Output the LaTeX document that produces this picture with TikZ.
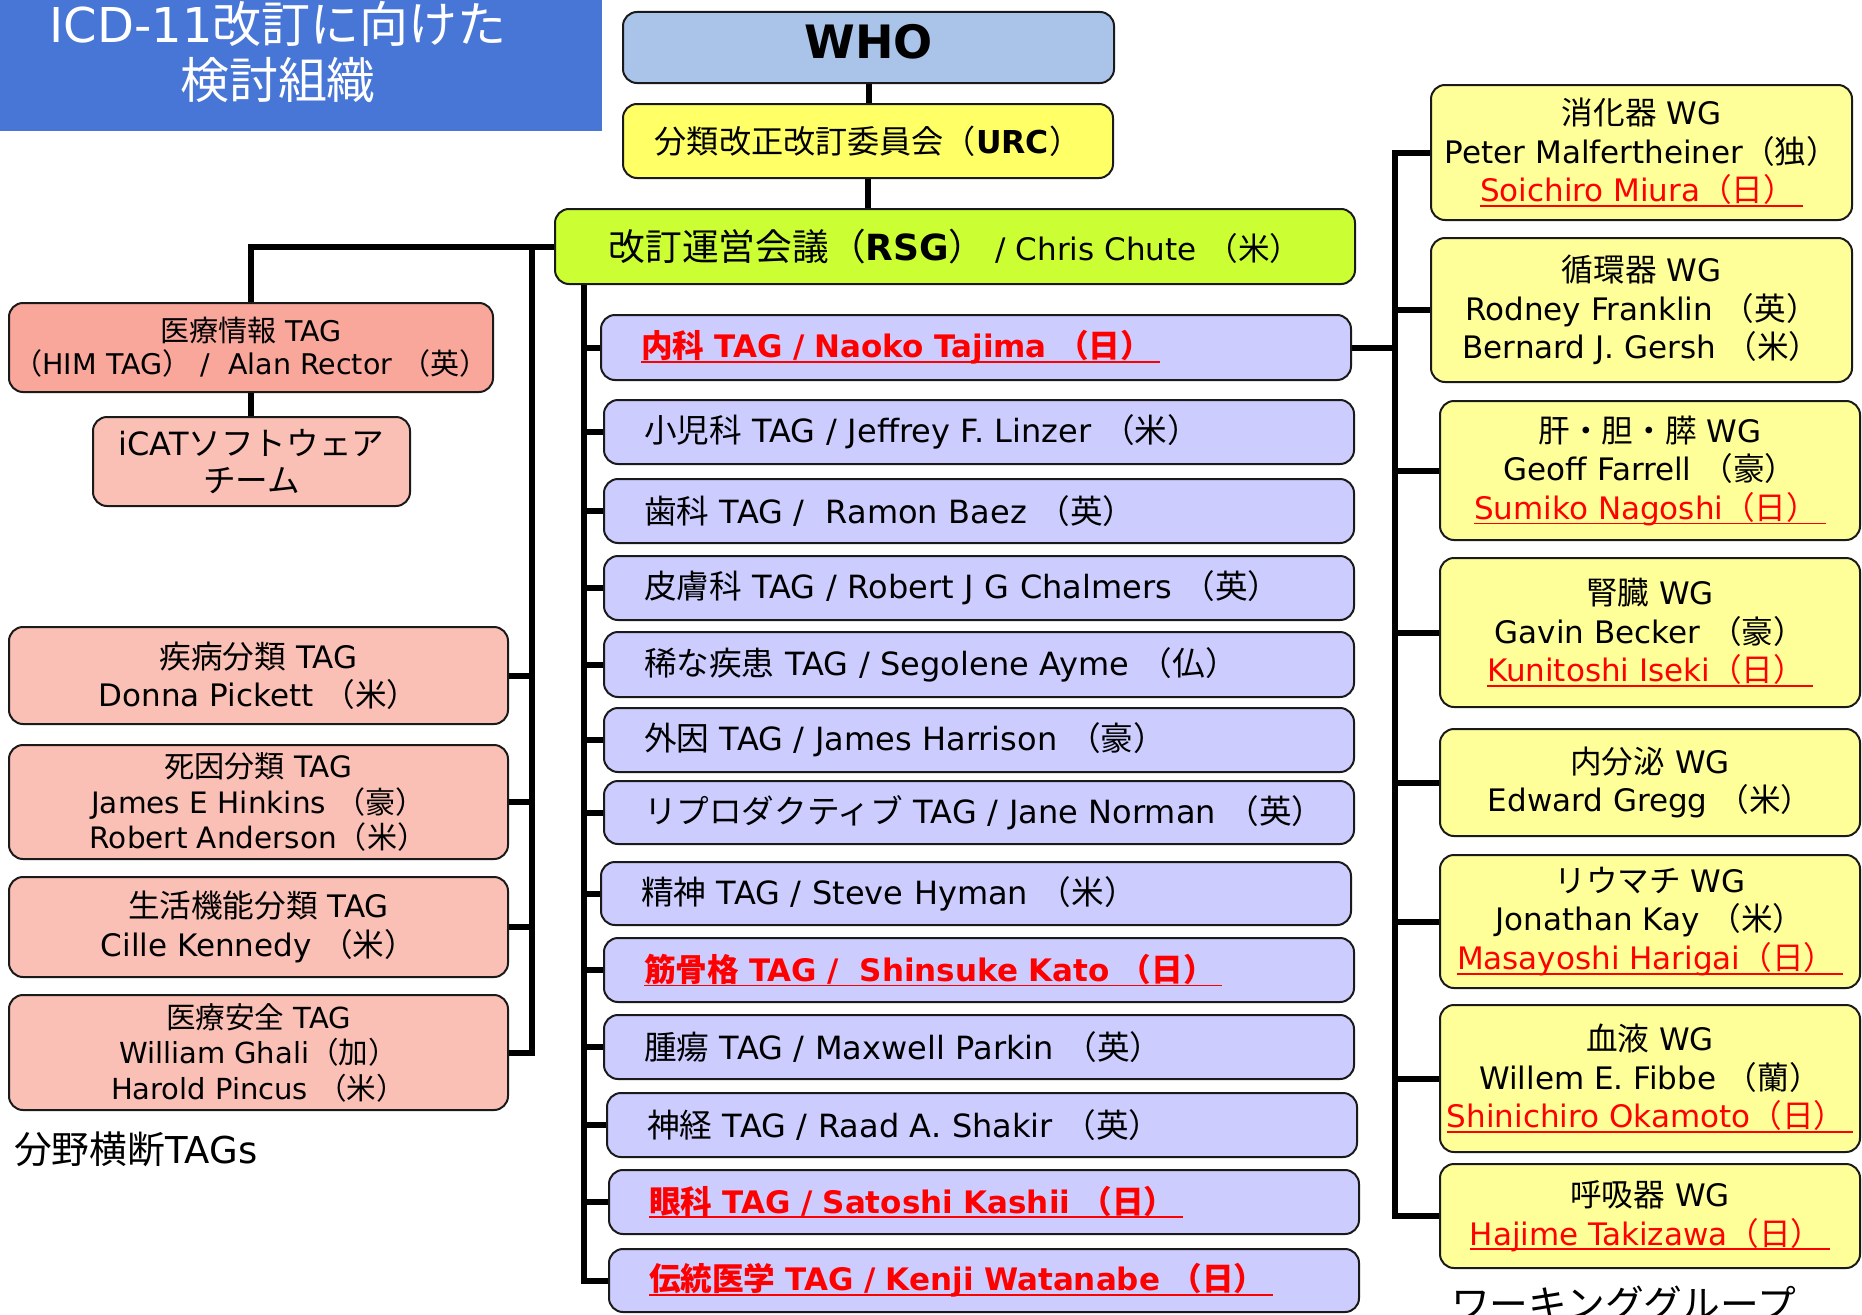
\documentclass[tikz,border=0pt]{standalone}
\usepackage{fontspec}
\setmainfont{DejaVu Sans}
\newfontfamily\jp[Scale=1.02]{Noto Sans CJK JP}
\newcommand\J[1]{{\jp #1}}
\newcommand\fz[2]{\fontsize{#1}{#2}\selectfont}
\newcommand\ulr[1]{\setbox0=\hbox{#1\hspace{0.25em}}\rlap{\rule[-0.17em]{\wd0}{1.8pt}}\box0}
\newcommand\rn[1]{\textcolor{red}{\ulr{#1}}}
\usetikzlibrary{backgrounds}
\definecolor{titleblue}{HTML}{4876D6}
\definecolor{whoblue}{HTML}{A9C4E8}
\definecolor{urcyellow}{HTML}{FFFF66}
\definecolor{rsggreen}{HTML}{CCFF33}
\definecolor{himsalmon}{HTML}{F9A69B}
\definecolor{ltagpink}{HTML}{FBC0B5}
\definecolor{tagblue}{HTML}{CCCCFF}
\definecolor{wgyellow}{HTML}{FFFF99}
\definecolor{edge}{HTML}{1A1A1A}
\begin{document}
\begin{tikzpicture}[x=1pt,y=-1pt,
  base/.style={draw=edge, line width=2pt, rounded corners=14pt, inner sep=0pt},
  tagb/.style={base, fill=tagblue, anchor=west, align=left, text width=670pt, inner xsep=40pt, minimum height=64pt, font=\fz{32}{36}},
  redt/.style={text=red, font=\fz{31}{36}\bfseries},
  wgb/.style={base, fill=wgyellow, align=center, minimum width=420pt, font=\fz{31}{38.5}},
  ltag/.style={base, fill=ltagpink, align=center, minimum width=499pt},
  conn/.style={line width=6pt, line cap=rect, black},
  lbl/.style={anchor=base west, inner sep=0pt}]
\useasboundingbox (0,0) rectangle (1862,1314);

% title
\node[fill=titleblue, minimum width=602pt, minimum height=131pt, inner sep=0pt, anchor=north west] (titlebox) at (0,0) {};
\node[text=white, align=center, font=\fz{48}{56}, inner sep=0pt] (title) at (278,52) {ICD-11\J{改訂に向けた}\\\J{検討組織}};

% top chain
\node[base, fill=whoblue, minimum width=491pt, minimum height=71pt, font=\fz{46}{50}\bfseries] (who) at (868.5,47.5) {\raisebox{6pt}[\height][\depth]{WHO}};
\node[base, fill=urcyellow, minimum width=490pt, minimum height=74pt, font=\fz{31.5}{36}] (urc) at (868,141) {\J{分類改正改訂委員会（}\textbf{URC}\J{）}};
\node[base, fill=rsggreen, minimum width=800pt, minimum height=75pt, font=\fz{31}{36}] (rsg) at (955,246.5) {{\fz{36}{40}\J{改訂運営会議（}\textbf{RSG}\J{）}} / Chris Chute \J{（米）}};

% left side
\node[base, fill=himsalmon, minimum width=484pt, minimum height=89pt, align=center, font=\fz{28.5}{33}] (him) at (251,347.5) {\J{医療情報} TAG\\\J{（}HIM TAG\J{）} /\ \ Alan Rector \J{（英）}};
\node[base, fill=ltagpink, minimum width=317pt, minimum height=89pt, align=center, font=\fz{32}{37}] (icat) at (251.5,461.5) {iCAT\J{ソフトウェア}\\\J{チーム}};
\node[ltag, minimum height=97pt, font=\fz{31}{38}] (t1) at (258.5,675.5) {\J{疾病分類} TAG\\Donna Pickett \J{（米）}};
\node[ltag, minimum height=114pt, font=\fz{29.5}{35.5}] (t2) at (258.5,802) {\J{死因分類} TAG\\James E Hinkins \J{（豪）}\\Robert Anderson\J{（米）}};
\node[ltag, minimum height=100pt, font=\fz{31}{39}] (t3) at (258.5,927) {\J{生活機能分類} TAG\\Cille Kennedy \J{（米）}};
\node[ltag, minimum height=115pt, font=\fz{29}{35.5}] (t4) at (258.5,1052.5) {\J{医療安全} TAG\\William Ghali\J{（加）}\\Harold Pincus \J{（米）}};
\node[lbl, font=\fz{37}{40}] (lbl1) at (14,1163) {\J{分野横断}TAGs};

% center TAGs
\node[tagb, minimum height=65pt, redt] (c1) at (600,347.5) {\ulr{\J{内科} TAG / Naoko Tajima \J{（日）}}};
\node[tagb] (c2) at (603,432) {\J{小児科} TAG / Jeffrey F. Linzer \J{（米）}};
\node[tagb] (c3) at (603,511) {\J{歯科} TAG /\ \ Ramon Baez \J{（英）}};
\node[tagb] (c4) at (603,588) {\J{皮膚科} TAG / Robert J G Chalmers \J{（英）}};
\node[tagb, minimum height=65pt] (c5) at (603,664.5) {\J{稀な疾患} TAG / Segolene Ayme \J{（仏）}};
\node[tagb] (c6) at (603,740) {\J{外因} TAG / James Harrison \J{（豪）}};
\node[tagb, minimum height=63pt] (c7) at (603,812.5) {\mbox{\J{リプロダクティブ} TAG / Jane Norman \J{（英）}}};
\node[tagb, minimum height=63pt] (c8) at (600,893.5) {\J{精神} TAG / Steve Hyman \J{（米）}};
\node[tagb, redt] (c9) at (603,970) {\ulr{\J{筋骨格} TAG /\ \ Shinsuke Kato \J{（日）}}};
\node[tagb] (c10) at (603,1047) {\J{腫瘍} TAG / Maxwell Parkin \J{（英）}};
\node[tagb] (c11) at (606,1125) {\J{神経} TAG / Raad A. Shakir \J{（英）}};
\node[tagb, redt] (c12) at (608,1202) {\ulr{\J{眼科} TAG / Satoshi Kashii \J{（日）}}};
\node[tagb, minimum height=63pt, redt] (c13) at (608,1280.5) {\ulr{\J{伝統医学} TAG / Kenji Watanabe \J{（日）}}};

% right WGs
\node[wgb, minimum width=421pt, minimum height=135pt] (w1) at (1641.5,152.5) {\J{消化器} WG\\Peter Malfertheiner\J{（独）}\\\rn{Soichiro Miura\J{（日）}}};
\node[wgb, minimum width=421pt, minimum height=144pt] (w2) at (1641.5,310) {\J{循環器} WG\\Rodney Franklin \J{（英）}\\Bernard J. Gersh \J{（米）}};
\node[wgb, minimum height=139pt] (w3) at (1650,470.5) {\J{肝・胆・膵} WG\\Geoff Farrell \J{（豪）}\\\rn{Sumiko Nagoshi\J{（日）}}};
\node[wgb, minimum height=149pt] (w4) at (1650,632.5) {\J{腎臓} WG\\Gavin Becker \J{（豪）}\\\rn{Kunitoshi Iseki\J{（日）}}};
\node[wgb, minimum height=107pt] (w5) at (1650,782.5) {\J{内分泌} WG\\Edward Gregg \J{（米）}};
\node[wgb, minimum height=133pt] (w6) at (1650,921.5) {\J{リウマチ} WG\\Jonathan Kay \J{（米）}\\\rn{Masayoshi Harigai\J{（日）}}};
\node[wgb, minimum height=147pt] (w7) at (1650,1078.5) {\J{血液} WG\\Willem E. Fibbe \J{（蘭）}\\\rn{Shinichiro Okamoto\J{（日）}}};
\node[wgb, minimum height=104pt] (w8) at (1650,1216) {\J{呼吸器} WG\\\rn{Hajime Takizawa\J{（日）}}};
\node[lbl, font=\fz{38}{40}] (lbl2) at (1451,1318) {\J{ワーキンググループ}};

% connectors
\coordinate (lb) at (532,0);
\coordinate (cb) at (584,0);
\coordinate (rb) at (1395,0);
\begin{pgfonlayer}{background}
\draw[conn] (who.south) -- (who.south |- urc.north);
\draw[conn] (urc.south) -- (urc.south |- rsg.north);
\draw[conn] (rsg.west) -| (him.north);
\draw[conn] (him.south) -- (him.south |- icat.north);
\draw[conn] (rsg.west -| lb) -- (lb |- t4.east);
\foreach \n in {t1,t2,t3,t4} \draw[conn] (\n.east) -- (\n.east -| lb);
\draw[conn] (rsg.south -| cb) -- (cb |- c13.west);
\foreach \n in {c1,c2,c3,c4,c5,c6,c7,c8,c9,c10,c11,c12,c13} \draw[conn] (cb |- \n.west) -- (\n.west);
\draw[conn] (c1.east) -- (c1.east -| rb);
\draw[conn] (rb |- w1.west) -- (rb |- w8.west);
\foreach \n in {w1,w2,w3,w4,w5,w6,w7,w8} \draw[conn] (rb |- \n.west) -- (\n.west);
\end{pgfonlayer}
\end{tikzpicture}
\end{document}
